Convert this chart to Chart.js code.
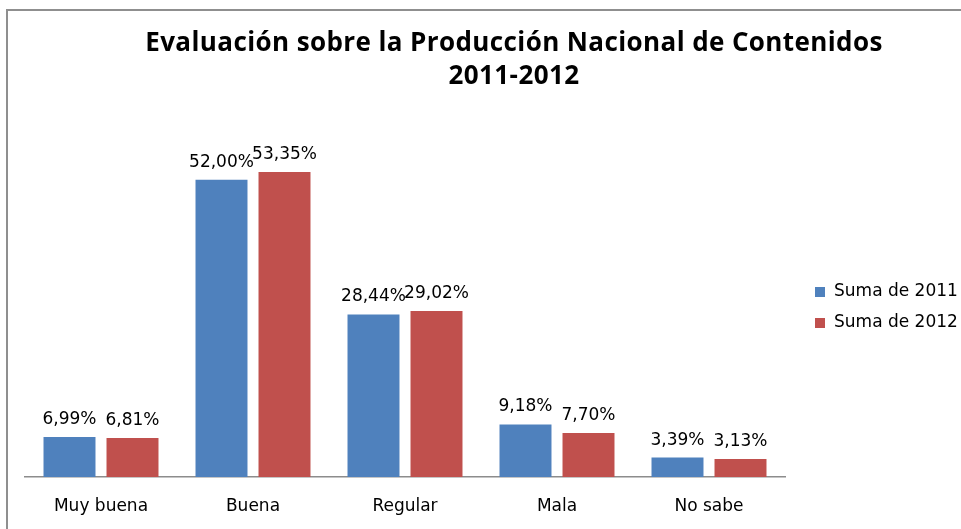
<!DOCTYPE html>
<html>
<head>
<meta charset="utf-8">
<script src="https://cdn.jsdelivr.net/npm/chart.js@4/dist/chart.umd.min.js"></script>
<style>
  html, body { margin: 0; padding: 0; background: #fff; overflow: hidden; }
  #wrap { width: 961px; height: 529px; position: relative; }
</style>
</head>
<body>
<div id="wrap"><canvas id="c" width="961" height="529"></canvas></div>
<script>
const categories = ["Muy buena", "Buena", "Regular", "Mala", "No sabe"];
const values2011 = [6.99, 52.00, 28.44, 9.18, 3.39];
const values2012 = [6.81, 53.35, 29.02, 7.70, 3.13];
const seriesNames = ["Suma de 2011", "Suma de 2012"];
const titleLines = ["Evaluación sobre la Producción Nacional de Contenidos", "2011-2012"];

const fmt = v => v.toFixed(2).replace('.', ',') + '%';

const framePlugin = {
  id: 'frame',
  beforeDraw(chart) {
    const ctx = chart.ctx;
    ctx.save();
    ctx.fillStyle = '#ffffff';
    ctx.fillRect(0, 0, chart.width, chart.height);
    ctx.strokeStyle = '#8f8f8f';
    ctx.lineWidth = 2;
    ctx.strokeRect(7, 10, 1100, 700);
    ctx.restore();
  }
};

const labelsPlugin = {
  id: 'barLabels',
  afterDatasetsDraw(chart) {
    const ctx = chart.ctx;
    ctx.save();
    ctx.font = '17px "DejaVu Sans"';
    ctx.fillStyle = '#000';
    ctx.textAlign = 'center';
    ctx.textBaseline = 'bottom';
    chart.data.datasets.forEach((ds, i) => {
      const meta = chart.getDatasetMeta(i);
      meta.data.forEach((bar, j) => {
        ctx.fillText(fmt(ds.data[j]), bar.x, bar.y - 9);
      });
    });
    ctx.restore();
  }
};

const titleLegendPlugin = {
  id: 'titleLegend',
  afterDraw(chart) {
    const ctx = chart.ctx;
    ctx.save();
    ctx.fillStyle = '#000';
    ctx.font = 'bold 26px "Open Sans"';
    try { ctx.letterSpacing = '0.4px'; } catch (e) {}
    ctx.textAlign = 'center';
    ctx.textBaseline = 'middle';
    ctx.fillText(titleLines[0], 514, 44);
    ctx.fillText(titleLines[1], 514, 77);
    try { ctx.letterSpacing = '0px'; } catch (e) {}
    // legend
    ctx.font = '17px "DejaVu Sans"';
    ctx.textAlign = 'left';
    chart.data.datasets.forEach((ds, i) => {
      const y = 292 + i * 31;
      ctx.fillStyle = ds.backgroundColor;
      ctx.fillRect(815, y - 5, 10, 10);
      ctx.fillStyle = '#000';
      ctx.fillText(ds.label, 834, y);
    });
    ctx.restore();
  }
};

new Chart(document.getElementById('c'), {
  type: 'bar',
  data: {
    labels: categories,
    datasets: [
      { label: seriesNames[0], data: values2011, backgroundColor: '#4F81BD' },
      { label: seriesNames[1], data: values2012, backgroundColor: '#C0504D' }
    ]
  },
  options: {
    responsive: false,
    animation: false,
    events: [],
    categoryPercentage: 0.829,
    barPercentage: 0.825,
    layout: { padding: { top: 134, left: 25, right: 176, bottom: 0 } },
    plugins: {
      legend: { display: false },
      title: { display: false },
      tooltip: { enabled: false }
    },
    scales: {
      x: {
        grid: { display: false, drawTicks: false },
        border: { display: true, color: '#8c8c8c', width: 1.5 },
        ticks: { color: '#000', font: { family: 'DejaVu Sans', size: 17 }, padding: 19, maxRotation: 0 },
        afterFit(scale) { scale.height = 52; }
      },
      y: {
        display: false,
        min: 0,
        max: 60
      }
    }
  },
  plugins: [framePlugin, labelsPlugin, titleLegendPlugin]
});
</script>
</body>
</html>
